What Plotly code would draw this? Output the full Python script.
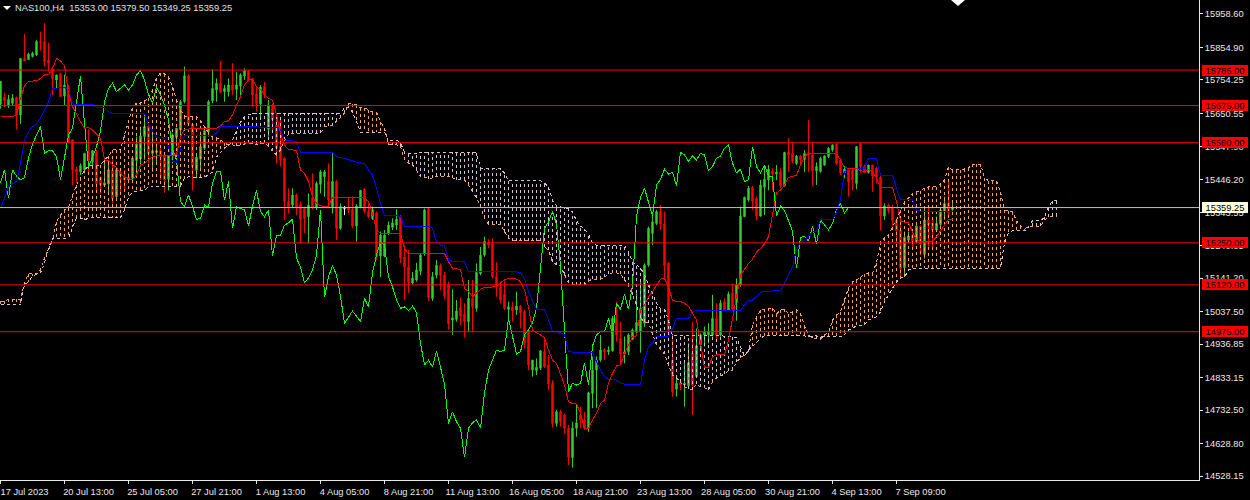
import plotly.graph_objects as go

opens = [15680,15700,15674,15682,15700,15646,15821,15818,15827,15832,15873,15873,15816,15790,15754,15773,15705,15732,15569,15478,
15470,15476,15532,15501,15532,15452,15429,15432,15474,15393,15470,15453,15445,15450,15505,15510,15579,15612,15527,15530,
15537,15519,15447,15522,15577,15600,15687,15767,15618,15475,15509,15543,15594,15690,15723,15744,15718,15718,15739,15725,
15736,15767,15783,15759,15711,15680,15734,15602,15677,15615,15548,15512,15378,15367,15398,15370,15357,15331,15390,15360,
15431,15455,15440,15362,15440,15295,15356,15360,15354,15302,15360,15416,15347,15326,15343,15209,15209,15280,15298,15305,
15331,15206,15175,15126,15135,15162,15217,15356,15078,15150,15180,15150,15120,15011,15013,15050,15029,15006,15078,15047,
15155,15212,15250,15250,15145,15114,15092,15044,15052,15042,15054,15037,14980,14856,14854,14862,14913,14872,14815,14691,
14727,14717,14676,14585,14676,14717,14702,14676,14784,14856,14887,14920,14913,14916,15016,14954,14906,14913,14951,14975,
14975,15001,15181,15279,15310,15347,15308,15187,14887,14797,14817,14810,14807,14908,14836,14935,14965,14965,14965,15016,
14965,15068,15042,15094,15065,15120,15331,15383,15422,15388,15333,15422,15445,15472,15463,15470,15426,15532,15527,15496,
15519,15508,15529,15522,15473,15471,15491,15517,15537,15556,15506,15467,15478,15475,15434,15558,15486,15467,15491,15481,
15453,15333,15367,15360,15321,15290,15173,15259,15274,15254,15302,15215,15321,15312,15290,15307,15349,15372,15353]
highs = [15750,15715,15708,15711,15703,15821,15897,15839,15842,15878,15904,15930,15870,15796,15770,15777,15770,15739,15569,15486,
15496,15529,15602,15538,15538,15455,15501,15507,15517,15481,15476,15476,15465,15517,15579,15610,15641,15620,15600,15558,
15543,15522,15522,15589,15605,15692,15796,15773,15620,15519,15594,15605,15692,15787,15759,15813,15739,15759,15806,15780,
15775,15790,15785,15759,15736,15739,15749,15692,15682,15636,15636,15515,15419,15419,15403,15378,15362,15403,15465,15440,
15476,15476,15496,15527,15445,15372,15364,15393,15393,15370,15414,15419,15372,15362,15347,15285,15290,15316,15326,15354,
15336,15243,15228,15160,15188,15218,15356,15360,15160,15197,15186,15160,15130,15106,15073,15081,15063,15135,15135,15186,
15238,15269,15261,15264,15190,15130,15130,15068,15068,15099,15058,15042,14985,14887,14892,14918,14954,14903,14825,14733,
14733,14722,14686,14696,14748,14743,14727,14789,14898,14898,14965,14923,14929,15023,15068,15006,14960,14970,14985,15094,
15135,15186,15300,15336,15352,15367,15347,15190,14965,14836,14825,14887,14939,15006,14985,14970,14991,15001,15089,15063,
15073,15078,15099,15125,15140,15362,15393,15426,15426,15393,15445,15491,15491,15481,15491,15481,15532,15574,15563,15522,
15522,15537,15630,15563,15499,15517,15522,15546,15555,15558,15512,15488,15481,15481,15550,15558,15491,15491,15491,15486,
15457,15372,15372,15367,15326,15331,15285,15285,15279,15305,15305,15360,15360,15321,15331,15354,15393,15439,15379.5]
lows = [15665,15670,15667,15674,15601,15618,15813,15816,15824,15829,15845,15796,15780,15708,15728,15703,15677,15558,15429,15436,
15460,15465,15465,15486,15409,15403,15424,15403,15372,15388,15398,15414,15440,15445,15465,15486,15507,15496,15470,15496,
15445,15405,15412,15496,15548,15579,15682,15612,15412,15450,15481,15538,15579,15682,15687,15713,15687,15703,15708,15692,
15708,15754,15749,15672,15656,15630,15698,15579,15594,15496,15486,15321,15341,15357,15336,15249,15280,15249,15354,15352,
15403,15393,15357,15341,15259,15290,15336,15341,15295,15254,15357,15341,15326,15321,15197,15144,15205,15274,15290,15290,
15188,15073,15095,15120,15130,15150,15210,15070,15070,15140,15104,15075,14982,14965,15006,14996,14957,14975,14973,15037,
15150,15207,15233,15140,15083,15062,15042,15006,15006,15027,14985,14923,14856,14836,14841,14856,14862,14794,14678,14681,
14681,14660,14562,14554,14650,14676,14671,14665,14738,14738,14882,14887,14903,14913,14944,14877,14877,14903,14949,14965,
14910,14990,15176,15243,15305,15290,15140,14970,14774,14774,14794,14743,14805,14717,14836,14918,14929,14939,14960,14944,
14960,15040,15040,15042,15009,15114,15331,15377,15352,15321,15331,15336,15413,15413,15444,15419,15424,15470,15496,15491,
15491,15470,15470,15426,15429,15467,15488,15512,15532,15491,15460,15450,15393,15412,15416,15467,15467,15465,15408,15434,
15288,15321,15341,15300,15248,15140,15145,15254,15228,15248,15212,15202,15238,15233,15284,15302,15321,15331,15349.25]
closes = [15750,15690,15694,15698,15646,15821,15813,15834,15837,15873,15870,15811,15806,15759,15770,15703,15739,15563,15476,15470,
15489,15527,15507,15535,15434,15429,15436,15476,15388,15476,15457,15445,15452,15512,15556,15581,15610,15527,15535,15535,
15517,15445,15519,15584,15605,15687,15767,15618,15486,15515,15548,15597,15687,15728,15744,15718,15728,15739,15723,15739,
15770,15783,15754,15708,15682,15732,15708,15677,15630,15543,15507,15378,15362,15398,15362,15323,15326,15367,15360,15434,
15470,15470,15383,15440,15295,15362,15356,15352,15302,15364,15412,15347,15331,15352,15209,15274,15274,15305,15312,15323,
15203,15175,15126,15141,15166,15212,15352,15081,15145,15180,15150,15085,15000,15018,15039,15023,15006,15078,15052,15158,
15212,15254,15243,15145,15114,15073,15047,15052,15040,15054,15034,14939,14872,14887,14865,14916,14867,14813,14691,14727,
14696,14676,14586,14676,14693,14702,14676,14786,14856,14887,14918,14913,14918,15016,14965,14906,14913,14965,14980,15003,
15047,15181,15295,15315,15347,15308,15179,14980,14789,14815,14810,14815,14879,14810,14931,14965,14975,14975,15016,14965,
15063,15044,15092,15044,15120,15333,15391,15419,15378,15333,15429,15447,15478,15463,15469,15426,15530,15522,15503,15519,
15507,15527,15522,15473,15486,15512,15519,15543,15553,15496,15467,15478,15439,15445,15548,15486,15467,15491,15457,15455,
15333,15364,15350,15319,15287,15171,15267,15271,15256,15302,15246,15321,15305,15290,15310,15352,15372,15343,15359.25]

tenkan = [15641,15641,15641,15641,15646,15698,15736,15749,15751,15752,15759,15770,15770,15790,15821,15813,15798,15713,15672,15646,
15625,15605,15607,15600,15587,15574,15507,15504,15493,15483,15465,15452,15450,15445,15460,15491,15496,15507,15517,15519,
15520,15520,15519,15519,15525,15579,15602,15602,15605,15605,15605,15605,15605,15605,15605,15612,15625,15628,15646,15677,
15703,15739,15754,15756,15732,15725,15708,15698,15692,15646,15589,15553,15538,15538,15535,15476,15465,15440,15393,15372,
15365,15362,15364,15391,15391,15391,15391,15391,15391,15391,15391,15388,15378,15341,15290,15280,15280,15280,15280,15280,
15280,15232,15216,15216,15216,15217,15217,15217,15217,15217,15217,15217,15192,15171,15171,15166,15109,15099,15083,15094,
15106,15112,15112,15112,15114,15127,15135,15140,15140,15138,15130,15104,15052,14980,14972,14965,14957,14918,14887,14877,
14841,14810,14758,14753,14751,14722,14676,14676,14702,14722,14753,14763,14815,14846,14869,14872,14908,14934,14960,14962,
15042,15058,15083,15099,15120,15138,15140,15114,15071,15070,15068,15063,15054,15032,15011,14939,14864,14864,14898,14903,
14903,14903,14949,15021,15083,15150,15168,15186,15199,15222,15233,15246,15269,15336,15405,15413,15429,15453,15455,15459,
15491,15517,15527,15527,15527,15527,15527,15527,15527,15527,15506,15483,15481,15481,15481,15473,15471,15476,15473,15450,
15422,15422,15422,15422,15377,15319,15314,15312,15284,15259,15254,15254,15254,15254,15269,15288,15308,15323,15323]
kijun = [15357,15388,15426,15434,15440,15496,15569,15594,15610,15618,15636,15661,15687,15728,15730,15730,15732,15723,15680,15679,
15679,15679,15679,15679,15670,15670,15670,15656,15651,15651,15651,15651,15651,15651,15651,15651,15651,15615,15594,15577,
15576,15574,15548,15501,15500,15538,15581,15581,15581,15581,15581,15581,15581,15581,15589,15610,15610,15610,15610,15610,
15610,15610,15610,15610,15610,15610,15610,15610,15610,15608,15600,15569,15566,15566,15563,15529,15529,15529,15529,15529,
15529,15529,15529,15529,15517,15515,15512,15507,15505,15499,15498,15496,15476,15460,15419,15372,15336,15335,15335,15335,
15331,15300,15300,15300,15300,15300,15300,15300,15295,15253,15243,15241,15197,15191,15191,15191,15191,15160,15160,15160,
15160,15160,15160,15160,15160,15160,15160,15160,15160,15160,15157,15140,15099,15073,15044,15044,15044,15011,14975,14975,
14972,14965,14913,14912,14912,14912,14912,14912,14912,14882,14856,14836,14827,14827,14825,14815,14812,14810,14810,14810,
14810,14887,14929,14939,14960,14960,14960,14960,14985,15016,15016,15016,15016,15037,15040,15040,15040,15040,15040,15040,
15040,15040,15040,15040,15040,15040,15058,15071,15073,15085,15096,15100,15101,15101,15101,15102,15125,15150,15176,15228,
15253,15257,15269,15286,15286,15321,15321,15321,15321,15346,15383,15470,15478,15479,15481,15481,15481,15512,15512,15512,
15459,15459,15459,15459,15419,15383,15383,15383,15383,15351,15348,15348,15348,15348,15348,15348,15348,15348,15348]
chikou = [15436,15476,15388,15476,15457,15445,15452,15512,15556,15581,15610,15527,15535,15535,
15517,15445,15519,15584,15605,15687,15767,15618,15486,15515,15548,15597,15687,15728,15744,15718,15728,15739,15723,15739,
15770,15783,15754,15708,15682,15732,15708,15677,15630,15543,15507,15378,15362,15398,15362,15323,15326,15367,15360,15434,
15470,15470,15383,15440,15295,15362,15356,15352,15302,15364,15412,15347,15331,15352,15209,15274,15274,15305,15312,15323,
15203,15175,15126,15141,15166,15212,15352,15081,15145,15180,15150,15085,15000,15018,15039,15023,15006,15078,15052,15158,
15212,15254,15243,15145,15114,15073,15047,15052,15040,15054,15034,14939,14872,14887,14865,14916,14867,14813,14691,14727,
14696,14676,14586,14676,14693,14702,14676,14786,14856,14887,14918,14913,14918,15016,14965,14906,14913,14965,14980,15003,
15047,15181,15295,15315,15347,15308,15179,14980,14789,14815,14810,14815,14879,14810,14931,14965,14975,14975,15016,14965,
15063,15044,15092,15044,15120,15333,15391,15419,15378,15333,15429,15447,15478,15463,15469,15426,15530,15522,15503,15519,
15507,15527,15522,15473,15486,15512,15519,15543,15553,15496,15467,15478,15439,15445,15548,15486,15467,15491,15457,15455,
15333,15364,15350,15319,15287,15171,15267,15271,15256,15302,15246,15321,15305,15290,15310,15352,15372,15343,15359.25]

span_a = [15070,15070,15075,15075,15075,15073,15126,15154,15154,15154,15166,15206,15228,15259,15315,15336,15352,15358,15398,15429,
15451,15476,15488,15488,15488,15491,15507,15519,15538,15538,15538,15584,15630,15668,15683,15683,15689,15699,15723,15761,
15776,15773,15764,15733,15692,15661,15643,15640,15640,15640,15630,15609,15590,15578,15575,15568,15559,15553,
15553,15550,15553,15556,15559,15556,15556,15556,15559,15550,15534,15522,15538,15568,15587,
15590,15590,15590,15590,15590,15590,15590,15590,15609,15612,15612,15627,15637,15652,
15680,15680,15677,15668,15668,15661,15655,15655,15624,15606,
15553,15553,15553,15550,15507,15497,15491,15476,
15454,15454,15448,15451,15457,15457,15457,15457,15451,15445,15445,15445,15429,15411,15389,15361,15327,15308,15308,15308,15308,
15284,15265,15256,15256,15256,15256,15256,15256,15256,15256,15237,15228,15191,15182,15178,15151,15126,15120,15120,15120,15120,
15132,15138,15138,15138,15144,15154,15157,15157,15154,15135,15117,15089,15058,15017,15005,15002,14965,14934,14921,14906,14872,
14841,14832,14819,14804,14798,14795,14813,14804,14801,14795,14819,14832,14838,14844,14853,14856,14881,14894,14903,14915,
14996,15017,15042,15045,15048,15048,15030,15042,15045,15030,15036,15042,15033,14993,14965,14956,14953,14952,14965,14971,
15011,15027,15036,15073,15110,15129,15135,15144,15154,15157,15157,15188,15253,15265,15274,15299,15321,15352,15377,15389,15404,
15408,15411,15420,15423,15423,15423,15432,15445,15485,15476,15476,15476,15479,15482,15494,15494,15494,15451,15442,15442,15442,
15408,15352,15349,15346,15318,15302,15293,15302,15302,15302,15302,15321,15330,15333,15333]
span_b = [15058,15058,15058,15058,15058,15058,15120,15129,15147,15151,15157,15188,15234,15262,15262,15262,15262,15265,15299,15327,
15327,15321,15327,15327,15327,15327,15327,15327,15327,15327,15327,15352,15392,15408,15408,15411,15414,15423,
15426,15426,15426,15426,15426,15426,15426,15426,15451,15454,15454,15451,15451,15454,15460,15469,15516,15531,15544,15550,
15568,15600,15624,15640,15646,15652,15652,15652,15652,15652,15652,15652,15652,15652,15652,15652,15652,15652,15652,15652,15652,
15652,15652,15652,15652,15652,15652,15652,15668,
15671,15655,15624,15593,15593,15593,15593,15593,15593,15593,
15565,15568,15568,15559,15531,15528,15528,15528,
15531,15531,15531,15531,15531,15531,15531,15531,15531,15531,15531,15531,15531,15531,15528,15482,15479,15479,15479,15479,15479,
15466,15442,15442,15442,15442,15442,15442,15442,15442,15442,15435,15423,15383,15364,15361,15358,15355,15346,15318,15302,15293,
15277,15250,15243,15243,15243,15243,15243,15243,15243,15243,15222,15191,15182,15172,15151,15120,15095,15064,15045,15045,15011,
14962,14962,14962,14962,14962,14962,14962,14962,14962,14962,14962,14962,14965,14959,14959,14959,14956,14925,14900,14918,
14931,14940,14955,14962,14962,14962,14962,14962,14962,14962,14962,14962,14962,14962,14959,14962,14962,14959,14959,14959,
14959,14959,14959,14965,14980,14986,14993,14993,14996,15011,15017,15021,15036,15067,15089,15110,15129,15141,15144,15166,15172,
15172,15172,15172,15172,15172,15172,15172,15172,15172,15172,15172,15172,15172,15172,15172,15172,15172,15172,15172,15172,15172,15172,
15250,15281,15287,15287,15287,15287,15299,15318,15318,15318,15330,15361,15380,15380]

tick_bars = [0,16,32,48,64,80,96,112,128,144,160,176,192,208,224]
tick_dates = ["17 Jul 2023","20 Jul 13:00","25 Jul 05:00","27 Jul 21:00","1 Aug 13:00","4 Aug 05:00","8 Aug 21:00","11 Aug 13:00",
              "16 Aug 05:00","18 Aug 21:00","23 Aug 13:00","28 Aug 05:00","30 Aug 21:00","4 Sep 13:00","7 Sep 09:00"]
price_ticks = [15958.60,15854.90,15754.25,15650.55,15547.90,15446.20,15343.55,15240.85,15141.20,15037.50,14936.85,14833.15,14732.50,14628.80,14528.15]
red_levels = [15785,15675,15560,15250,15120,14975]
current_price = 15359.25
header = "NAS100,H4  15353.00 15379.50 15349.25 15359.25"
doji_bar = 86

assert len(opens)==len(highs)==len(lows)==len(closes), (len(opens),len(highs),len(lows),len(closes))

FONT = "Liberation Sans"
FSIZE = 9.3
SANDY, THISTLE = "#f4a460", "#d8bfd8"
DASH = "3px,3px"
bars = list(range(len(opens)))
fig = go.Figure()

for name, col, test in (("sandy", SANDY, lambda a,b: a>=b), ("thistle", THISTLE, lambda a,b: a<b)):
    xs, ys = [], []
    for k,(a,b) in enumerate(zip(span_a, span_b)):
        if test(a,b):
            xs += [k,k,None]; ys += [a,b,None]
    fig.add_trace(go.Scatter(x=xs,y=ys,mode="lines",name=name,line=dict(color=col,width=1,dash=DASH),hoverinfo="skip"))
fig.add_trace(go.Scatter(x=list(range(len(span_a))),y=span_a,mode="lines",name="Senkou A",line=dict(color=SANDY,width=1,dash=DASH)))
fig.add_trace(go.Scatter(x=list(range(len(span_b))),y=span_b,mode="lines",name="Senkou B",line=dict(color=THISTLE,width=1,dash=DASH)))

fig.add_trace(go.Candlestick(x=bars,open=opens,high=highs,low=lows,close=closes,whiskerwidth=0,name="NAS100",
    increasing=dict(line=dict(color="#32cd32",width=1),fillcolor="#32cd32"),
    decreasing=dict(line=dict(color="#ff0000",width=1),fillcolor="#ff0000")))
fig.add_trace(go.Candlestick(x=[doji_bar],open=[opens[doji_bar]],high=[highs[doji_bar]],low=[lows[doji_bar]],close=[closes[doji_bar]],whiskerwidth=0,name="doji",
    increasing=dict(line=dict(color="#ffffff",width=1),fillcolor="#ffffff"),
    decreasing=dict(line=dict(color="#ffffff",width=1),fillcolor="#ffffff")))

fig.add_trace(go.Scatter(x=list(range(len(chikou))),y=chikou,mode="lines",name="Chikou",line=dict(color="#00ff00",width=1)))
fig.add_trace(go.Scatter(x=list(range(len(kijun))),y=kijun,mode="lines",name="Kijun",line=dict(color="#0000ff",width=1)))
fig.add_trace(go.Scatter(x=list(range(len(tenkan))),y=tenkan,mode="lines",name="Tenkan",line=dict(color="#ff0000",width=1)))

for lv in red_levels:
    fig.add_shape(type="line",xref="x domain",yref="y",x0=0,x1=1,y0=lv,y1=lv,line=dict(color="#ff0000",width=1))
    fig.add_annotation(xref="x domain",yref="y",x=1201.5/1199,xanchor="left",y=lv,yanchor="middle",text=f"{lv:.2f}",showarrow=False,
        font=dict(family=FONT,size=FSIZE,color="#000000"),bgcolor="#ff0000",width=46,height=11,borderpad=0,borderwidth=0,align="center")
fig.add_shape(type="line",xref="x domain",yref="y",x0=0,x1=1,y0=current_price,y1=current_price,line=dict(color="#c0c0c0",width=1))
fig.add_annotation(xref="x domain",yref="y",x=1201.5/1199,xanchor="left",y=current_price,yanchor="middle",text=f"{current_price:.2f}",showarrow=False,
    font=dict(family=FONT,size=FSIZE,color="#000000"),bgcolor="#ffffe0",width=46,height=11,borderpad=0,borderwidth=0,align="center")

fig.add_annotation(xref="paper",yref="paper",x=13/1199,xanchor="left",y=1-7.5/480,yanchor="middle",text=header.replace("  ","&nbsp;&nbsp;"),showarrow=False,
    font=dict(family=FONT,size=FSIZE,color="#e0e0e0"))
for pts in ((3,6,11,6,7,10), (951,0,965,0,958,6)):
    path = "M {} {} L {} {} L {} {} Z".format(pts[0]/1199,1-pts[1]/480,pts[2]/1199,1-pts[3]/480,pts[4]/1199,1-pts[5]/480)
    fig.add_shape(type="path",xref="paper",yref="paper",path=path,fillcolor="#ffffff",line=dict(width=0))

fig.update_layout(width=1250,height=500,margin=dict(l=0,r=51,t=0,b=20,pad=0),autosize=False,
    paper_bgcolor="#000000",plot_bgcolor="#000000",showlegend=False,boxgap=0.5,dragmode=False,
    font=dict(family=FONT,size=FSIZE,color="#e8e8e8"))
fig.update_xaxes(range=[-0.125,299.625],rangeslider_visible=False,showgrid=False,zeroline=False,
    tickmode="array",tickvals=tick_bars,ticktext=tick_dates,ticks="outside",ticklen=3,tickwidth=1,tickcolor="#e8e8e8",
    showline=True,linecolor="#e8e8e8",linewidth=1,ticklabelshift=24,ticklabeloverflow="allow",tickfont=dict(family=FONT,size=FSIZE,color="#e8e8e8"))
fig.update_yaxes(range=[14515.8,16001.9],side="right",showgrid=False,zeroline=False,
    tickmode="array",tickvals=price_ticks,ticktext=[f"{v:.2f}" for v in price_ticks],ticks="outside",ticklen=3,tickwidth=1,tickcolor="#e8e8e8",
    showline=True,linecolor="#e8e8e8",linewidth=1,tickfont=dict(family=FONT,size=FSIZE,color="#e8e8e8"))

fig.write_html("out.html",config=dict(displayModeBar=False),
    post_script="document.body.style.margin='0';document.body.style.background='#000';var s=document.createElement('style');s.textContent='.scatterlayer path{shape-rendering:crispEdges}';document.head.appendChild(s);")
